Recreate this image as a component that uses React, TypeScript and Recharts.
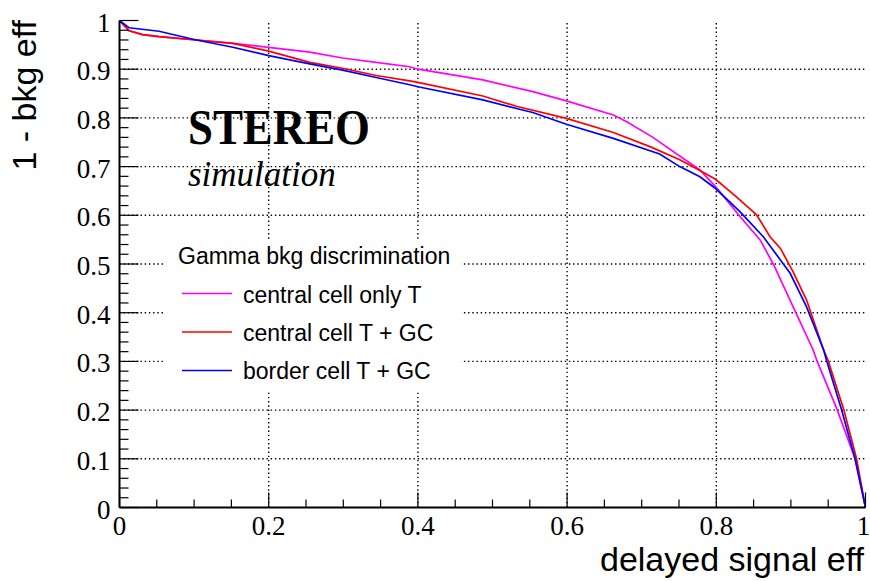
import React from 'react';
import { LineChart, Line, XAxis, YAxis, ReferenceLine } from 'recharts';

// delayed signal efficiency (x) vs 1 - bkg efficiency (y)
const onlyTX = [0, 0.013, 0.031, 0.053, 0.103, 0.152, 0.2, 0.255, 0.299, 0.344, 0.389, 0.4, 0.487, 0.554, 0.599, 0.662, 0.68, 0.715, 0.778, 0.799, 0.832, 0.859, 0.877, 0.903, 0.93, 0.935, 0.962, 0.986, 1];
const onlyTY = [1, 0.979, 0.971, 0.967, 0.96, 0.953, 0.945, 0.935, 0.923, 0.914, 0.905, 0.9, 0.878, 0.854, 0.835, 0.806, 0.792, 0.76, 0.693, 0.659, 0.597, 0.549, 0.498, 0.412, 0.323, 0.301, 0.201, 0.1, 0];

const centralGCX = [0, 0.013, 0.031, 0.053, 0.103, 0.152, 0.2, 0.255, 0.299, 0.344, 0.389, 0.4, 0.487, 0.532, 0.599, 0.662, 0.711, 0.751, 0.778, 0.799, 0.827, 0.854, 0.872, 0.886, 0.903, 0.921, 0.944, 0.95, 0.971, 0.988, 1];
const centralGCY = [1, 0.979, 0.971, 0.967, 0.96, 0.953, 0.937, 0.914, 0.902, 0.887, 0.876, 0.873, 0.845, 0.824, 0.799, 0.77, 0.741, 0.714, 0.692, 0.674, 0.638, 0.601, 0.556, 0.532, 0.484, 0.426, 0.323, 0.301, 0.2, 0.1, 0];

const borderGCX = [0, 0.013, 0.053, 0.103, 0.152, 0.2, 0.255, 0.299, 0.344, 0.389, 0.4, 0.487, 0.554, 0.599, 0.662, 0.724, 0.751, 0.778, 0.799, 0.832, 0.863, 0.899, 0.921, 0.944, 0.948, 0.968, 0.986, 1];
const borderGCY = [1, 0.985, 0.978, 0.96, 0.945, 0.928, 0.911, 0.898, 0.883, 0.868, 0.864, 0.837, 0.811, 0.787, 0.758, 0.726, 0.7, 0.679, 0.655, 0.607, 0.556, 0.481, 0.412, 0.323, 0.301, 0.2, 0.1, 0];

const seriesNames = ['central cell only T', 'central cell T + GC', 'border cell T + GC'];
const seriesColors = ['#ff00ff', '#ff0000', '#0000ff'];

const xMajor = [0, 0.2, 0.4, 0.6, 0.8, 1];
const xLabels = ['0', '0.2', '0.4', '0.6', '0.8', '1'];
const yMajor = [0, 0.1, 0.2, 0.3, 0.4, 0.5, 0.6, 0.7, 0.8, 0.9, 1];
const yLabels = ['0', '0.1', '0.2', '0.3', '0.4', '0.5', '0.6', '0.7', '0.8', '0.9', '1'];

const xTicks = Array.from({ length: 21 }, (_, i) => i / 20);
const yTicks = Array.from({ length: 51 }, (_, i) => i / 50);

const zip = (xs: number[], ys: number[]) => xs.map((x, i) => ({ x, y: ys[i] }));
const series = [zip(onlyTX, onlyTY), zip(centralGCX, centralGCY), zip(borderGCX, borderGCY)];

const SERIF = '"Liberation Serif", "Times New Roman", serif';
const SANS = '"Liberation Sans", Arial, sans-serif';

const labelOf = (v: number, majors: number[], labels: string[]) => {
  const i = majors.findIndex((m) => Math.abs(m - v) < 1e-6);
  return i >= 0 ? labels[i] : null;
};

const BottomTick = (p: any) => {
  const lab = labelOf(p.payload.value, xMajor, xLabels);
  // last label sits right at the canvas edge, nudge it in a bit
  const dx = p.payload.value > 0.99 ? -2 : 0;
  return (
    <g>
      <line x1={p.x} y1={p.y} x2={p.x} y2={p.y - (lab ? 15 : 8)} stroke="#000" strokeWidth={1.2} />
      {lab && (
        <text x={p.x + dx} y={p.y + 27.5} textAnchor="middle" fontFamily={SERIF} fontSize={27} fill="#000">
          {lab}
        </text>
      )}
    </g>
  );
};

const TopTick = (p: any) => {
  const lab = labelOf(p.payload.value, xMajor, xLabels);
  return <line x1={p.x} y1={p.y} x2={p.x} y2={p.y + (lab ? 15 : 8)} stroke="#000" strokeWidth={1.2} />;
};

const LeftTick = (p: any) => {
  const lab = labelOf(p.payload.value, yMajor, yLabels);
  return (
    <g>
      <line x1={p.x} y1={p.y} x2={p.x + (lab ? 19 : 9)} y2={p.y} stroke="#000" strokeWidth={1.2} />
      {lab && (
        <text x={p.x - 9} y={p.y + 11} textAnchor="end" fontFamily={SERIF} fontSize={27} fill="#000">
          {lab}
        </text>
      )}
    </g>
  );
};

const RightTick = (p: any) => {
  const lab = labelOf(p.payload.value, yMajor, yLabels);
  return <line x1={p.x} y1={p.y} x2={p.x - (lab ? 18 : 8)} y2={p.y} stroke="#000" strokeWidth={1.2} />;
};

const frame = { stroke: '#000', strokeWidth: 2 };
const grid = { stroke: '#000', strokeWidth: 1.4, strokeDasharray: '1.4 2.8' };

export default function App() {
  return (
    <div style={{ position: 'absolute', left: 0, top: 0, width: 870, height: 581, background: '#fff' }}>
      <LineChart width={870} height={581} margin={{ top: 20.5, right: 4.5, bottom: 0, left: 0 }}>
        <XAxis xAxisId="b" type="number" dataKey="x" domain={[0, 1]} ticks={xTicks} interval={0}
          orientation="bottom" height={73.5} tickSize={0} tickMargin={0} tickLine={false}
          axisLine={frame} tick={<BottomTick />} allowDataOverflow />
        <XAxis xAxisId="t" type="number" dataKey="x" domain={[0, 1]} ticks={xTicks} interval={0}
          orientation="top" height={0} tickSize={0} tickMargin={0} tickLine={false}
          axisLine={frame} tick={<TopTick />} allowDataOverflow />
        <YAxis yAxisId="l" type="number" domain={[0, 1]} ticks={yTicks} interval={0}
          orientation="left" width={119.5} tickSize={0} tickMargin={0} tickLine={false}
          axisLine={frame} tick={<LeftTick />} allowDataOverflow />
        <YAxis yAxisId="r" type="number" domain={[0, 1]} ticks={yTicks} interval={0}
          orientation="right" width={0} tickSize={0} tickMargin={0} tickLine={false}
          axisLine={frame} tick={<RightTick />} allowDataOverflow />
        {xMajor.slice(1, -1).map((v) => (
          <ReferenceLine key={`gx${v}`} xAxisId="b" yAxisId="l" x={v} {...grid} />
        ))}
        {yMajor.slice(1, -1).map((v) => (
          <ReferenceLine key={`gy${v}`} xAxisId="b" yAxisId="l" y={v} {...grid} />
        ))}
        {series.map((d, i) => (
          <Line key={seriesNames[i]} xAxisId="b" yAxisId="l" data={d} dataKey="y" name={seriesNames[i]}
            type="linear" stroke={seriesColors[i]} strokeWidth={1.7} dot={false} isAnimationActive={false} />
        ))}
      </LineChart>
      <svg width={870} height={581} style={{ position: 'absolute', left: 0, top: 0, pointerEvents: 'none' }}>
        <text x={188} y={144} fontFamily={SERIF} fontWeight="bold" fontSize={50} textLength={182}
          lengthAdjust="spacingAndGlyphs" fill="#000">STEREO</text>
        <text x={188} y={185.5} fontFamily={SERIF} fontStyle="italic" fontSize={35} fill="#000">simulation</text>
        <rect x={165} y={240} width={296} height={152} fill="#fff" />
        <text x={178} y={264} fontFamily={SANS} fontSize={23} fill="#000">Gamma bkg discrimination</text>
        {seriesNames.map((n, i) => (
          <g key={n}>
            <line x1={182} x2={232} y1={293.5 + i * 38.5} y2={293.5 + i * 38.5} stroke={seriesColors[i]} strokeWidth={1.7} />
            <text x={243} y={302.7 + i * 38} fontFamily={SANS} fontSize={23} fill="#000">{n}</text>
          </g>
        ))}
        <text x={864} y={571} textAnchor="end" fontFamily={SANS} fontSize={34} fill="#000">delayed signal eff</text>
        <text x={36} y={20} transform="rotate(-90 36 20)" textAnchor="end" fontFamily={SANS} fontSize={34} fill="#000">1 - bkg eff</text>
      </svg>
    </div>
  );
}
